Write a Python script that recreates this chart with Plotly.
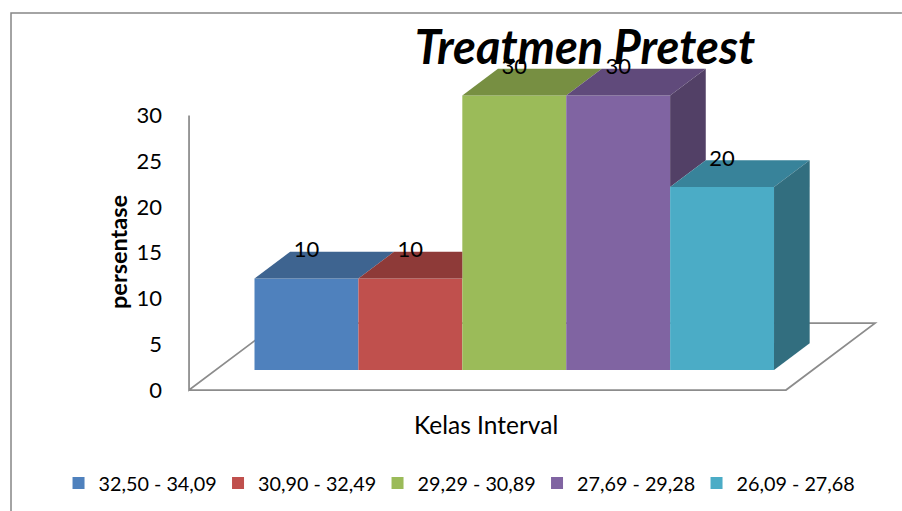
import plotly.graph_objects as go

# --- data ---
categories = ["32,50 - 34,09", "30,90 - 32,49", "29,29 - 30,89", "27,69 - 29,28", "26,09 - 27,68"]
percent = [10, 10, 30, 30, 20]
y_ticks = [0, 5, 10, 15, 20, 25, 30]

# --- styles ---
front_colors = ["#4F81BD", "#C0504D", "#9BBB59", "#8064A2", "#4BACC6"]
top_colors = ["#3E6490", "#8E3A38", "#778F42", "#604A7B", "#38839A"]
side_colors = ["#35557B", "#7A3230", "#677C39", "#524066", "#326E7F"]
FONT = "Lato"
GREY = "#8C8C8C"

# --- pseudo-3D projection, in axis units ---
X_MIN, X_MAX = -1.217, 5.568
Y_MIN, Y_MAX = -0.546, 36.61
ORIGIN_X = -1.13
FRONT_RIGHT_X = 4.615
BAR_W = 1.0
DEPTH_X, DEPTH_Y = 0.343, 2.92     # receding offset of a bar
BASE = 2.186                       # bars stand this far back on the floor
FLOOR_X, FLOOR_Y = 0.857, 7.3      # receding offset of the floor

fig = go.Figure()

# floor outline and wall line, behind the bars
floor = [(ORIGIN_X, max(y_ticks)), (ORIGIN_X, 0), (ORIGIN_X + FLOOR_X, FLOOR_Y),
         (FRONT_RIGHT_X + FLOOR_X, FLOOR_Y), (FRONT_RIGHT_X, 0), (ORIGIN_X, 0)]
fig.add_shape(
    type="path", xref="x", yref="y", layer="below",
    path="M " + " L ".join(f"{a:.4f},{b:.4f}" for a, b in floor),
    line=dict(color=GREY, width=1.75),
)

# front faces
for i, (name, v) in enumerate(zip(categories, percent)):
    fig.add_trace(go.Bar(
        x=[i], y=[v], base=BASE, width=BAR_W, name=name,
        marker=dict(color=front_colors[i], line=dict(width=0)),
        hoverinfo="name+y",
    ))

# top and side faces, clipped against the neighbouring bar to the right
for i, v in enumerate(percent):
    left, right = i - BAR_W / 2, i + BAR_W / 2
    top = BASE + v
    nxt = percent[i + 1] if i + 1 < len(percent) else 0
    next_top = BASE + nxt
    if nxt > v:
        tx = [left, right, right, left + DEPTH_X, left]
    else:
        tx = [left, right, right + DEPTH_X, left + DEPTH_X, left]
    ty = [top, top, top + DEPTH_Y, top + DEPTH_Y, top]
    fig.add_trace(go.Scatter(
        x=tx, y=ty, mode="lines", fill="toself", fillcolor=top_colors[i],
        line=dict(width=0), showlegend=False, hoverinfo="skip",
    ))
    if nxt < v:
        sx = [right, right + DEPTH_X, right + DEPTH_X, right, right]
        sy = [top, top + DEPTH_Y, next_top + DEPTH_Y, next_top, top]
        fig.add_trace(go.Scatter(
            x=sx, y=sy, mode="lines", fill="toself", fillcolor=side_colors[i],
            line=dict(width=0), showlegend=False, hoverinfo="skip",
        ))

# data labels
fig.add_trace(go.Scatter(
    x=list(range(len(percent))),
    y=[BASE + v + DEPTH_Y for v in percent],
    text=[str(v) for v in percent],
    mode="text", textposition="middle center",
    textfont=dict(family=FONT, size=22, color="#000000"),
    showlegend=False, hoverinfo="skip", cliponaxis=False,
))

# chart frame (left and top edges only)
fig.add_shape(type="path", xref="paper", yref="paper", layer="below",
              path="M -0.2397,-0.341 L -0.2397,1.1235 L 1.024,1.1235",
              line=dict(color="#868686", width=1.5))

fig.update_layout(
    width=902, height=511,
    margin=dict(l=180, r=17, t=55, b=116, pad=0, autoexpand=False),
    paper_bgcolor="#FFFFFF", plot_bgcolor="rgba(0,0,0,0)",
    font=dict(family=FONT, color="#000000"),
    barmode="overlay",
    title=dict(text="<b><i>Treatmen Pretest</i></b>", x=585 / 902, y=1 - 48 / 511,
               xanchor="center", yanchor="middle", xref="container", yref="container",
               font=dict(family=FONT, size=47, color="#000000")),
    xaxis=dict(range=[X_MIN, X_MAX], showgrid=False, zeroline=False, showticklabels=False,
               ticks="", showline=False),
    yaxis=dict(range=[Y_MIN, Y_MAX], tickmode="array", tickvals=y_ticks,
               ticktext=[str(t) for t in y_ticks], showgrid=False, zeroline=False,
               ticks="", showline=False,
               ticklabelstandoff=17, tickfont=dict(family=FONT, size=22)),
    legend=dict(orientation="h", x=-0.1723, y=-0.259, xanchor="left", yanchor="middle",
                entrywidth=114.5, entrywidthmode="pixels", traceorder="normal",
                font=dict(family=FONT, size=19.8), bgcolor="rgba(0,0,0,0)"),
    showlegend=True,
    annotations=[
        dict(text="Kelas Interval", xref="paper", yref="paper",
             x=(486 - 180) / 705, y=(395 - 424) / 340, showarrow=False,
             xanchor="center", yanchor="middle", font=dict(family=FONT, size=24.5)),
        dict(text="<b>persentase</b>", xref="paper", yref="paper",
             x=(118 - 180) / 705, y=(395 - 252) / 340, showarrow=False, textangle=-90,
             xanchor="center", yanchor="middle", font=dict(family=FONT, size=23.5)),
    ],
)

fig.write_html("out.html", config={"displayModeBar": False},
               post_script="document.body.style.margin='0';")
